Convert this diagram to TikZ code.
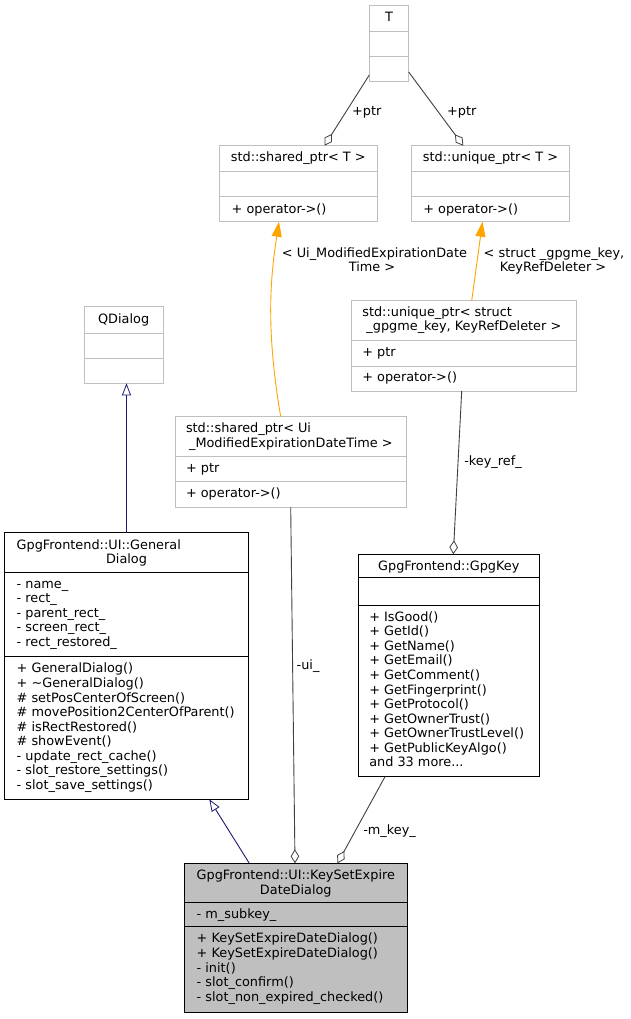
\documentclass[tikz,border=0pt]{standalone}
\usepackage{fontspec}
\setmainfont{DejaVu Sans}
\usetikzlibrary{arrows.meta}
\definecolor{boxgray}{HTML}{BFBFBF}
\definecolor{edgegray}{HTML}{404040}
\definecolor{tmplorange}{HTML}{FFA500}
\definecolor{inhblue}{HTML}{191970}
\definecolor{selfill}{HTML}{BFBFBF}
\begin{document}
\begin{tikzpicture}[x=1pt,y=-1pt,
  font=\fontsize{12.85pt}{14.55pt}\selectfont,
  cls/.style={draw=black, line width=0.9pt, inner sep=0pt, outer sep=0pt, fill=white},
  gcls/.style={cls, draw=boxgray},
  sep/.style={line width=0.9pt, draw=black},
  gsep/.style={sep, draw=boxgray},
  lt/.style={anchor=base west, inner sep=0pt, outer sep=0pt},
  ct/.style={anchor=base, inner sep=0pt, outer sep=0pt},
  aggr/.style={draw=edgegray, line width=0.9pt, {Diamond[open, length=14pt, width=8.5pt, line width=0.8pt]}-},
  inh/.style={draw=inhblue, line width=0.9pt, -{Triangle[open, length=12pt, width=9pt, line width=0.8pt]}},
  tmpl/.style={draw=tmplorange, line width=0.9pt, -{Triangle[length=15pt, width=10pt]}}
]
\useasboundingbox (0,0) rectangle (631,1019);

% ---------- boxes ----------
\node[gcls, minimum width=39.4pt, minimum height=76pt] (T) at (389,43.7) {};
\draw[gsep] (T.west |- 0,31.7) -- (T.east |- 0,31.7);
\draw[gsep] (T.west |- 0,56.7) -- (T.east |- 0,56.7);
\node[ct] (tT) at (389,22) {T};

\node[gcls, minimum width=158pt, minimum height=76pt] (shT) at (298.3,183.7) {};
\draw[gsep] (shT.west |- 0,171.7) -- (shT.east |- 0,171.7);
\draw[gsep] (shT.west |- 0,196.7) -- (shT.east |- 0,196.7);
\node[ct] (shTh) at (298.3,162) {std::shared\_ptr< T >};
\node[lt] (shTm) at (231.7,213) {+ operator->()};

\node[gcls, minimum width=157.6pt, minimum height=76pt] (unT) at (490.5,183.7) {};
\draw[gsep] (unT.west |- 0,171.7) -- (unT.east |- 0,171.7);
\draw[gsep] (unT.west |- 0,196.7) -- (unT.east |- 0,196.7);
\node[ct] (unTh) at (490.5,162) {std::unique\_ptr< T >};
\node[lt] (unTm) at (423.3,213) {+ operator->()};

\node[gcls, minimum width=225.7pt, minimum height=90.3pt] (unS) at (463.85,345.85) {};
\draw[gsep] (unS.west |- 0,340) -- (unS.east |- 0,340);
\draw[gsep] (unS.west |- 0,366) -- (unS.east |- 0,366);
\node[lt] (unSh1) at (362.3,316.7) {std::unique\_ptr< struct};
\node[ct] (unSh2) at (463.85,330.9) {\_gpgme\_key, KeyRefDeleter >};
\node[lt] (unSa) at (362.3,356.7) {+ ptr};
\node[lt] (unSm) at (362.3,381.9) {+ operator->()};

\node[gcls, minimum width=230.3pt, minimum height=90.6pt] (shU) at (290.85,462) {};
\draw[gsep] (shU.west |- 0,456.7) -- (shU.east |- 0,456.7);
\draw[gsep] (shU.west |- 0,481.7) -- (shU.east |- 0,481.7);
\node[lt] (shUh1) at (186,432.7) {std::shared\_ptr< Ui};
\node[ct] (shUh2) at (290.85,447) {\_ModifiedExpirationDateTime >};
\node[lt] (shUa) at (186,472.9) {+ ptr};
\node[lt] (shUm) at (186,497.9) {+ operator->()};

\node[gcls, minimum width=79.3pt, minimum height=76.6pt] (QD) at (123.65,345) {};
\draw[gsep] (QD.west |- 0,333.3) -- (QD.east |- 0,333.3);
\draw[gsep] (QD.west |- 0,358.3) -- (QD.east |- 0,358.3);
\node[ct] (QDh) at (123.65,323) {QDialog};

\node[cls, minimum width=243.6pt, minimum height=266.6pt] (GD) at (126.5,666) {};
\draw[sep] (GD.west |- 0,572.3) -- (GD.east |- 0,572.3);
\draw[sep] (GD.west |- 0,656.7) -- (GD.east |- 0,656.7);
\node[lt] (GDh1) at (16.7,549.2) {GpgFrontend::UI::General};
\node[ct] (GDh2) at (126.5,563.7) {Dialog};
\foreach \t [count=\i from 0] in {- name\_, - rect\_, - parent\_rect\_, - screen\_rect\_, - rect\_restored\_}
  \node[lt] (GDa\i) at (16.7,588.3+\i*14.55) {\t};
\foreach \t [count=\i from 0] in {+ GeneralDialog(), + \textasciitilde GeneralDialog(), \# setPosCenterOfScreen(), \# movePosition2CenterOfParent(), \# isRectRestored(), \# showEvent(), - update\_rect\_cache(), - slot\_restore\_settings(), - slot\_save\_settings()}
  \node[lt] (GDm\i) at (16.7,672.9+\i*14.55) {\t};

\node[cls, minimum width=181pt, minimum height=222.4pt] (GK) at (448.8,665.5) {};
\draw[sep] (GK.west |- 0,577.7) -- (GK.east |- 0,577.7);
\draw[sep] (GK.west |- 0,605) -- (GK.east |- 0,605);
\node[ct] (GKh) at (448.8,570.6) {GpgFrontend::GpgKey};
\foreach \t [count=\i from 0] in {+ IsGood(), + GetId(), + GetName(), + GetEmail(), + GetComment(), + GetFingerprint(), + GetProtocol(), + GetOwnerTrust(), + GetOwnerTrustLevel(), + GetPublicKeyAlgo()}
  \node[lt] (GKm\i) at (369.3,621.3+\i*14.55) {\t};
\node[lt] (GKmore) at (369.3,766.8) {and 33 more...};

\node[cls, fill=selfill, minimum width=223pt, minimum height=149.4pt] (KS) at (295.8,938) {};
\draw[sep] (KS.west |- 0,902.7) -- (KS.east |- 0,902.7);
\draw[sep] (KS.west |- 0,926.7) -- (KS.east |- 0,926.7);
\node[lt] (KSh1) at (196.7,879.6) {GpgFrontend::UI::KeySetExpire};
\node[ct] (KSh2) at (295.8,894.2) {DateDialog};
\node[lt] (KSa) at (196.7,918.9) {- m\_subkey\_};
\foreach \t [count=\i from 0] in {+ KeySetExpireDateDialog(), + KeySetExpireDateDialog(), - init(), - slot\_confirm(), - slot\_non\_expired\_checked()}
  \node[lt] (KSm\i) at (196.7,942.9+\i*14.55) {\t};

% ---------- connectors ----------
\draw[aggr] ([xshift=105.2pt]shT.north west) -- ([yshift=6.7pt]T.south west);
\draw[aggr] ([xshift=51.6pt]unT.north west) -- ([yshift=9.7pt]T.south east);
\node[ct] (lp1) at (366.7,116) {+ptr};
\node[ct] (lp2) at (461.7,116) {+ptr};

\draw[tmpl] ([xshift=105pt]shU.north west) .. controls (266,330) and (270,280) .. ([xshift=59.7pt]shT.south west);
\node[ct] (lt1a) at (374.5,257.3) {< Ui\_ModifiedExpirationDate};
\node[ct] (lt1b) at (372,271.7) {Time >};

\draw[tmpl] ([xshift=120.7pt]unS.north west) -- ([xshift=70.8pt]unT.south west);
\node[ct] (lt2a) at (554,257.3) {< struct \_gpgme\_key,};
\node[ct] (lt2b) at (553,271.7) {KeyRefDeleter >};

\draw[aggr] ([xshift=95pt]GK.north west) -- ([xshift=110.7pt]unS.south west);
\node[lt] (lkr) at (464.3,465) {-key\_ref\_};

\draw[aggr] ([xshift=110.7pt]KS.north west) -- ([xshift=115pt]shU.south west);
\node[lt] (lui) at (296.7,669.3) {-ui\_};

\draw[aggr] ([xshift=153.2pt]KS.north west) -- ([xshift=26.7pt]GK.south west);
\node[lt] (lmk) at (363.3,834.3) {-m\_key\_};

\draw[inh] ([xshift=65pt]KS.north west) -- ([xshift=204.6pt]GD.south west);
\draw[inh] (GD.north) -- (GD.north |- QD.south);
\end{tikzpicture}
\end{document}
